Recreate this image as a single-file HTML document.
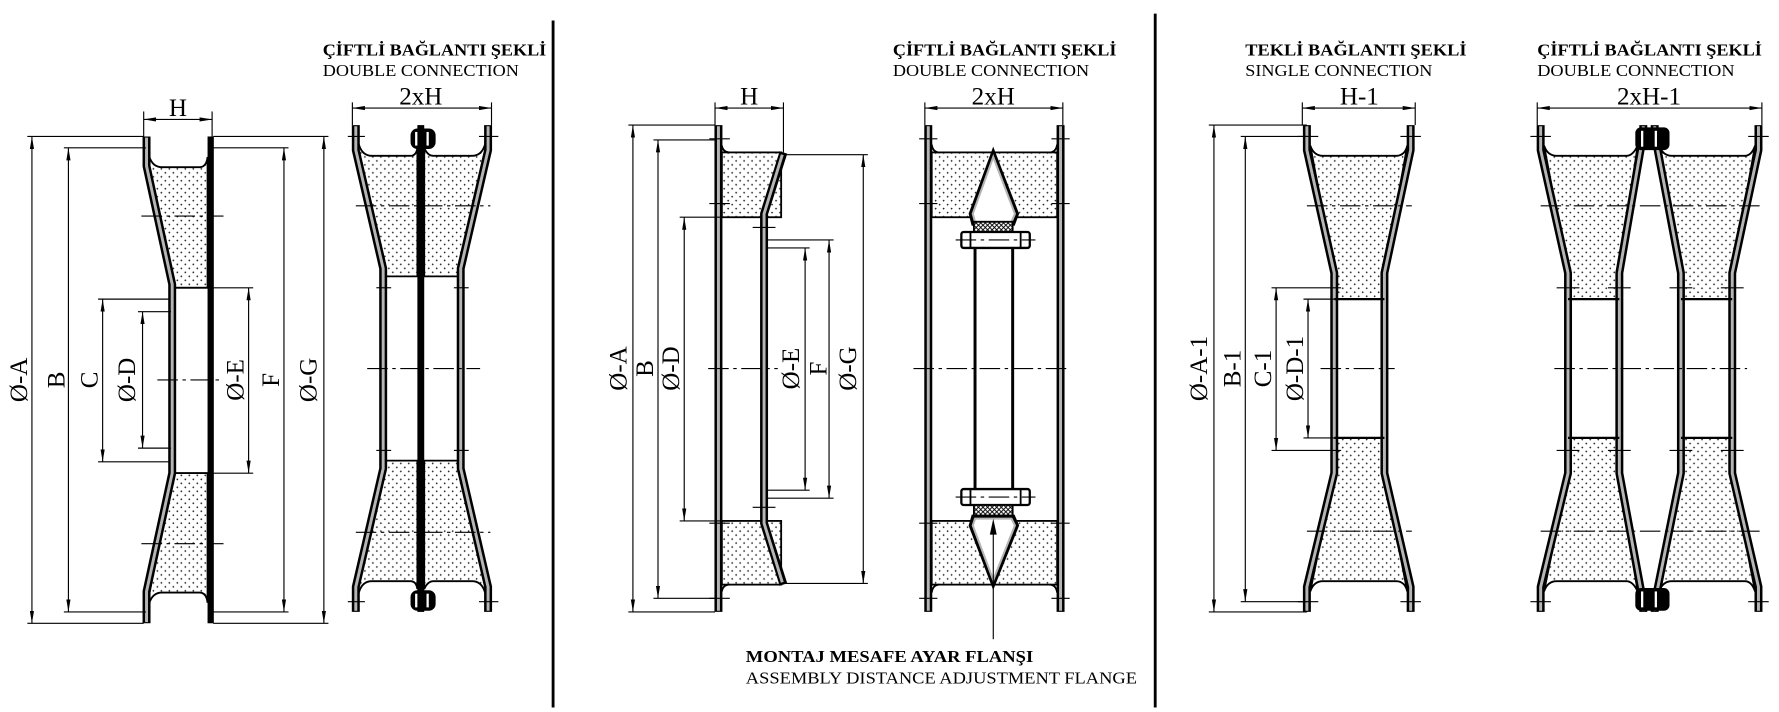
<!DOCTYPE html>
<html><head><meta charset="utf-8"><style>
html,body{margin:0;padding:0;background:#fff;}
svg{display:block}
.d{stroke:#000;stroke-width:1;fill:none}
.da{stroke:#000;stroke-width:1;fill:none;marker-start:url(#ar);marker-end:url(#ar)}
.c{stroke:#000;stroke-width:1;fill:none;stroke-dasharray:18 4 3 4}
.wo{stroke:#000;stroke-width:7;fill:none;stroke-linejoin:miter}
.wi{stroke:#b5b5b5;stroke-width:2.6;fill:none;stroke-linejoin:miter}
.dot{fill:url(#dp);stroke:#000;stroke-width:1.6}
.t{font-family:"Liberation Serif",serif;font-size:22px;fill:#000}
.tb{font-family:"Liberation Serif",serif;font-size:15px;font-weight:bold;fill:#000}
.tn{font-family:"Liberation Serif",serif;font-size:15px;fill:#000}
</style></head><body>
<svg width="1779" height="712" viewBox="0 0 1560 626" preserveAspectRatio="none" xmlns="http://www.w3.org/2000/svg">
<defs>
<marker id="ar" viewBox="0 0 12 4" refX="12" refY="2" markerWidth="11" markerHeight="4" markerUnits="userSpaceOnUse" orient="auto-start-reverse"><path d="M0,0 L12,2 L0,4 z" fill="#000"/></marker>
<pattern id="dp" width="7" height="7" patternUnits="userSpaceOnUse"><rect width="7" height="7" fill="#fff"/><path d="M0.7,1.5h1.6M1.5,0.7v1.6M4.2,5h1.6M5,4.2v1.6" stroke="#000" stroke-width="0.6"/></pattern>
<pattern id="hp" width="4" height="4" patternUnits="userSpaceOnUse"><rect width="4" height="4" fill="#fff"/><path d="M0,4L4,0M0,0L4,4" stroke="#000" stroke-width="0.8"/></pattern>
</defs>
<rect width="1560" height="626" fill="#fff"/>

<line x1="485" y1="18" x2="485" y2="622" stroke="#000" stroke-width="2.5"/>
<line x1="1013" y1="12" x2="1013" y2="622" stroke="#000" stroke-width="2.5"/>

<!-- PANEL 1 -->
<path class="dot" d="M131,138 Q134,147 142,147 L175,147 Q181,147 182,138 L182,253 L151,253 L131,146 Z"/>
<path class="dot" d="M131,530 Q134,521 142,521 L175,521 Q181,521 182,530 L182,416 L151,416 L131,522 Z"/>
<line x1="151" y1="253" x2="182" y2="253" stroke="#000" stroke-width="1.6"/>
<line x1="151" y1="416" x2="182" y2="416" stroke="#000" stroke-width="1.6"/>
<polyline class="wo" points="128.5,120 128.5,146 151,250 151,416 128.5,520 128.5,548"/>
<polyline class="wi" points="128.5,121 128.5,146 151,250 151,416 128.5,520 128.5,547"/>
<rect x="182" y="120" width="5.5" height="428" fill="#000"/>
<line class="c" x1="124" y1="190" x2="196" y2="190"/>
<line class="c" x1="124" y1="478" x2="196" y2="478"/>
<line class="c" x1="138" y1="334" x2="196" y2="334"/>
<line class="d" x1="126" y1="98" x2="126" y2="120"/><line class="d" x1="186" y1="98" x2="186" y2="120"/>
<line class="da" x1="126" y1="105" x2="186" y2="105"/>
<text class="t" x="156" y="102" text-anchor="middle">H</text>
<line class="d" x1="24" y1="120" x2="126" y2="120"/><line class="d" x1="24" y1="548" x2="126" y2="548"/>
<line class="da" x1="28" y1="120" x2="28" y2="548"/>
<line class="d" x1="56" y1="130" x2="128" y2="130"/><line class="d" x1="56" y1="538" x2="128" y2="538"/>
<line class="da" x1="60" y1="130" x2="60" y2="538"/>
<line class="d" x1="86" y1="263" x2="149" y2="263"/><line class="d" x1="86" y1="406" x2="149" y2="406"/>
<line class="da" x1="90" y1="263" x2="90" y2="406"/>
<line class="d" x1="121" y1="274" x2="150" y2="274"/><line class="d" x1="121" y1="394" x2="150" y2="394"/>
<line class="da" x1="125" y1="274" x2="125" y2="394"/>
<line class="d" x1="187" y1="253" x2="222" y2="253"/><line class="d" x1="187" y1="416" x2="222" y2="416"/>
<line class="da" x1="218" y1="253" x2="218" y2="416"/>
<line class="d" x1="187" y1="130" x2="253" y2="130"/><line class="d" x1="187" y1="538" x2="253" y2="538"/>
<line class="da" x1="249" y1="130" x2="249" y2="538"/>
<line class="d" x1="187" y1="120" x2="288" y2="120"/><line class="d" x1="187" y1="548" x2="288" y2="548"/>
<line class="da" x1="284" y1="120" x2="284" y2="548"/>
<text class="t" transform="translate(17,334) rotate(-90)" text-anchor="middle" dominant-baseline="central">Ø-A</text>
<text class="t" transform="translate(50,334) rotate(-90)" text-anchor="middle" dominant-baseline="central">B</text>
<text class="t" transform="translate(79,334) rotate(-90)" text-anchor="middle" dominant-baseline="central">C</text>
<text class="t" transform="translate(112,334) rotate(-90)" text-anchor="middle" dominant-baseline="central">Ø-D</text>
<text class="t" transform="translate(207,334) rotate(-90)" text-anchor="middle" dominant-baseline="central">Ø-E</text>
<text class="t" transform="translate(238,334) rotate(-90)" text-anchor="middle" dominant-baseline="central">F</text>
<text class="t" transform="translate(271,334) rotate(-90)" text-anchor="middle" dominant-baseline="central">Ø-G</text>

<!-- PANEL 2 -->
<text class="tb" x="283" y="49" textLength="196" lengthAdjust="spacingAndGlyphs">ÇİFTLİ BAĞLANTI ŞEKLİ</text>
<text class="tn" x="283" y="67" textLength="172" lengthAdjust="spacingAndGlyphs">DOUBLE CONNECTION</text>
<line class="d" x1="309" y1="90" x2="309" y2="110"/><line class="d" x1="431" y1="90" x2="431" y2="110"/>
<line class="da" x1="309" y1="95" x2="431" y2="95"/>
<text class="t" x="369" y="92" text-anchor="middle">2xH</text>
<path class="dot" d="M315,128 Q318,137 326,137 L360,137 Q365,137 366,130 L366,243 L336,243 L336,236 L313,134 Z"/>
<path class="dot" d="M425,128 Q422,137 414,137 L380,137 Q375,137 372,130 L372,243 L404,243 L404,236 L427,134 Z"/>
<path class="dot" d="M315,520 Q318,511 326,511 L360,511 Q365,511 366,518 L366,405 L336,405 L336,412 L313,514 Z"/>
<path class="dot" d="M425,520 Q422,511 414,511 L380,511 Q375,511 372,518 L372,405 L404,405 L404,412 L427,514 Z"/>
<polyline class="wo" points="312,110 312,132 336,236 336,412 312,516 312,538"/>
<polyline class="wi" points="312,111 312,132 336,236 336,412 312,516 312,537"/>
<polyline class="wo" points="428,110 428,132 404,236 404,412 428,516 428,538"/>
<polyline class="wi" points="428,111 428,132 404,236 404,412 428,516 428,537"/>
<rect x="366" y="110" width="6" height="428" fill="#000"/>
<rect x="360" y="113" width="22" height="18" rx="6" fill="#000"/>
<rect x="364" y="116" width="2" height="12" fill="#fff"/><rect x="374" y="116" width="2" height="12" fill="#fff"/>
<rect x="360" y="519" width="22" height="18" rx="6" fill="#000"/>
<rect x="364" y="522" width="2" height="12" fill="#fff"/><rect x="374" y="522" width="2" height="12" fill="#fff"/>
<line class="c" x1="305" y1="120" x2="320" y2="120"/><line class="c" x1="420" y1="120" x2="437" y2="120"/>
<line class="c" x1="305" y1="529" x2="320" y2="529"/><line class="c" x1="420" y1="529" x2="437" y2="529"/>
<line class="c" x1="312" y1="181" x2="430" y2="181"/>
<line class="c" x1="312" y1="468" x2="430" y2="468"/>
<line class="c" x1="322" y1="324" x2="421" y2="324"/>
<line class="d" x1="330" y1="253" x2="343" y2="253"/><line class="d" x1="398" y1="253" x2="411" y2="253"/>
<line class="d" x1="330" y1="396" x2="343" y2="396"/><line class="d" x1="398" y1="396" x2="411" y2="396"/>

<!-- PANEL 3 -->
<rect class="dot" x="633" y="134" width="52" height="57"/>
<rect class="dot" x="633" y="458" width="52" height="56"/>
<path d="M633,128 Q634,134 640,134" stroke="#000" stroke-width="1.6" fill="none"/>
<path d="M633,520 Q634,514 640,514" stroke="#000" stroke-width="1.6" fill="none"/>
<polyline class="wo" points="630,110 630,538"/>
<polyline class="wi" points="630,111 630,537"/>
<polyline class="wo" points="687,134 670,188 670,460 687,514"/>
<polyline class="wi" points="686,136 670,188 670,460 686,512"/>
<line class="c" x1="622" y1="122" x2="640" y2="122"/><line class="c" x1="622" y1="179" x2="640" y2="179"/>
<line class="c" x1="622" y1="460" x2="640" y2="460"/><line class="c" x1="622" y1="526" x2="640" y2="526"/>
<line class="d" x1="660" y1="200" x2="680" y2="200"/><line class="d" x1="660" y1="446" x2="680" y2="446"/>
<line class="c" x1="621" y1="324" x2="682" y2="324"/>
<line class="d" x1="627" y1="90" x2="627" y2="110"/><line class="d" x1="687" y1="90" x2="687" y2="134"/>
<line class="da" x1="627" y1="95" x2="687" y2="95"/>
<text class="t" x="657" y="92" text-anchor="middle">H</text>
<line class="d" x1="551" y1="110" x2="627" y2="110"/><line class="d" x1="551" y1="538" x2="627" y2="538"/>
<line class="da" x1="555" y1="110" x2="555" y2="538"/>
<line class="d" x1="573" y1="123" x2="628" y2="123"/><line class="d" x1="573" y1="526" x2="628" y2="526"/>
<line class="da" x1="577" y1="123" x2="577" y2="526"/>
<line class="d" x1="596" y1="191" x2="667" y2="191"/><line class="d" x1="596" y1="458" x2="667" y2="458"/>
<line class="da" x1="600" y1="191" x2="600" y2="458"/>
<line class="d" x1="673" y1="218" x2="710" y2="218"/><line class="d" x1="673" y1="431" x2="710" y2="431"/>
<line class="da" x1="706" y1="218" x2="706" y2="431"/>
<line class="d" x1="673" y1="211" x2="731" y2="211"/><line class="d" x1="673" y1="438" x2="731" y2="438"/>
<line class="da" x1="727" y1="211" x2="727" y2="438"/>
<line class="d" x1="688" y1="136" x2="761" y2="136"/><line class="d" x1="688" y1="513" x2="761" y2="513"/>
<line class="da" x1="757" y1="136" x2="757" y2="513"/>
<text class="t" transform="translate(543,324) rotate(-90)" text-anchor="middle" dominant-baseline="central">Ø-A</text>
<text class="t" transform="translate(566,324) rotate(-90)" text-anchor="middle" dominant-baseline="central">B</text>
<text class="t" transform="translate(589,324) rotate(-90)" text-anchor="middle" dominant-baseline="central">Ø-D</text>
<text class="t" transform="translate(694,324) rotate(-90)" text-anchor="middle" dominant-baseline="central">Ø-E</text>
<text class="t" transform="translate(718,324) rotate(-90)" text-anchor="middle" dominant-baseline="central">F</text>
<text class="t" transform="translate(744,324) rotate(-90)" text-anchor="middle" dominant-baseline="central">Ø-G</text>

<!-- PANEL 4 -->
<text class="tb" x="783" y="49" textLength="196" lengthAdjust="spacingAndGlyphs">ÇİFTLİ BAĞLANTI ŞEKLİ</text>
<text class="tn" x="783" y="67" textLength="172" lengthAdjust="spacingAndGlyphs">DOUBLE CONNECTION</text>
<line class="d" x1="811" y1="90" x2="811" y2="110"/><line class="d" x1="932" y1="90" x2="932" y2="110"/>
<line class="da" x1="811" y1="95" x2="932" y2="95"/>
<text class="t" x="871" y="92" text-anchor="middle">2xH</text>
<rect class="dot" x="817" y="134" width="110" height="57"/>
<rect class="dot" x="817" y="458" width="110" height="56"/>
<path d="M817,127 Q818,134 824,134 M927,127 Q926,134 920,134 M817,521 Q818,514 824,514 M927,521 Q926,514 920,514" stroke="#000" stroke-width="1.6" fill="none"/>
<polyline class="wo" points="814,110 814,538"/><polyline class="wi" points="814,111 814,537"/>
<polyline class="wo" points="930,110 930,538"/><polyline class="wi" points="930,111 930,537"/>
<polygon points="871,136 852,188 854,196 888,196 891,188" fill="#fff" stroke="#000" stroke-width="5" stroke-linejoin="miter"/>
<polygon points="871,138 853,188 855,195 887,195 890,188" fill="#fff" stroke="#b5b5b5" stroke-width="1.8"/>
<rect x="854" y="195" width="34" height="10" fill="url(#hp)" stroke="#000" stroke-width="1.6"/>
<rect x="843" y="204" width="60" height="14" rx="2" fill="#fff" stroke="#000" stroke-width="2"/>
<line x1="851" y1="204" x2="851" y2="218" stroke="#000" stroke-width="1.6"/>
<line x1="895" y1="204" x2="895" y2="218" stroke="#000" stroke-width="1.6"/>
<line x1="855" y1="218" x2="855" y2="430" stroke="#000" stroke-width="2.6"/>
<line x1="888" y1="218" x2="888" y2="430" stroke="#000" stroke-width="2.6"/>
<rect x="843" y="430" width="60" height="14" rx="2" fill="#fff" stroke="#000" stroke-width="2"/>
<line x1="851" y1="430" x2="851" y2="444" stroke="#000" stroke-width="1.6"/>
<line x1="895" y1="430" x2="895" y2="444" stroke="#000" stroke-width="1.6"/>
<rect x="854" y="444" width="34" height="10" fill="url(#hp)" stroke="#000" stroke-width="1.6"/>
<polygon points="871,512 852,462 854,455 888,455 891,462" fill="#fff" stroke="#000" stroke-width="5"/>
<polygon points="871,510 853,462 855,456 887,456 890,462" fill="#fff" stroke="#b5b5b5" stroke-width="1.8"/>
<line class="c" x1="838" y1="211" x2="908" y2="211"/><line class="c" x1="838" y1="437" x2="908" y2="437"/>
<line class="c" x1="806" y1="122" x2="822" y2="122"/><line class="c" x1="922" y1="122" x2="938" y2="122"/>
<line class="c" x1="806" y1="179" x2="822" y2="179"/><line class="c" x1="922" y1="179" x2="938" y2="179"/>
<line class="c" x1="806" y1="460" x2="822" y2="460"/><line class="c" x1="922" y1="460" x2="938" y2="460"/>
<line class="c" x1="806" y1="526" x2="822" y2="526"/><line class="c" x1="922" y1="526" x2="938" y2="526"/>
<line class="c" x1="801" y1="324" x2="939" y2="324"/>
<line x1="871" y1="562" x2="871" y2="468" stroke="#000" stroke-width="1"/>
<polygon points="871,456 868,470 874,470" fill="#000"/>
<text class="tb" x="654" y="582" textLength="252" lengthAdjust="spacingAndGlyphs">MONTAJ MESAFE AYAR FLANŞI</text>
<text class="tn" x="654" y="601" textLength="343" lengthAdjust="spacingAndGlyphs">ASSEMBLY DISTANCE ADJUSTMENT FLANGE</text>

<!-- PANEL 5 -->
<text class="tb" x="1092" y="49" textLength="194" lengthAdjust="spacingAndGlyphs">TEKLİ BAĞLANTI ŞEKLİ</text>
<text class="tn" x="1092" y="67" textLength="164" lengthAdjust="spacingAndGlyphs">SINGLE CONNECTION</text>
<line class="d" x1="1142" y1="90" x2="1142" y2="110"/><line class="d" x1="1241" y1="90" x2="1241" y2="110"/>
<line class="da" x1="1142" y1="95" x2="1241" y2="95"/>
<text class="t" x="1192" y="92" text-anchor="middle">H-1</text>
<path class="dot" d="M1149,128 Q1152,137 1160,137 L1224,137 Q1232,137 1234,128 L1214,240 L1214,263 L1170,263 L1170,240 Z"/>
<path class="dot" d="M1149,520 Q1152,511 1160,511 L1224,511 Q1232,511 1234,520 L1214,416 L1214,385 L1170,385 L1170,416 Z"/>
<polyline class="wo" points="1146,110 1146,132 1170,240 1170,416 1146,516 1146,538"/>
<polyline class="wi" points="1146,111 1146,132 1170,240 1170,416 1146,516 1146,537"/>
<polyline class="wo" points="1237,110 1237,132 1214,240 1214,416 1237,516 1237,538"/>
<polyline class="wi" points="1237,111 1237,132 1214,240 1214,416 1237,516 1237,537"/>
<line x1="1170" y1="263" x2="1214" y2="263" stroke="#000" stroke-width="2"/>
<line x1="1170" y1="385" x2="1214" y2="385" stroke="#000" stroke-width="2"/>
<line class="c" x1="1138" y1="120" x2="1156" y2="120"/><line class="c" x1="1228" y1="120" x2="1246" y2="120"/>
<line class="c" x1="1138" y1="529" x2="1156" y2="529"/><line class="c" x1="1228" y1="529" x2="1246" y2="529"/>
<line class="c" x1="1146" y1="181" x2="1238" y2="181"/>
<line class="c" x1="1146" y1="467" x2="1238" y2="467"/>
<line class="c" x1="1158" y1="324" x2="1223" y2="324"/>
<line class="d" x1="1060" y1="110" x2="1146" y2="110"/><line class="d" x1="1060" y1="538" x2="1146" y2="538"/>
<line class="da" x1="1064.5" y1="110" x2="1064.5" y2="538"/>
<line class="d" x1="1088" y1="120" x2="1146" y2="120"/><line class="d" x1="1088" y1="529" x2="1146" y2="529"/>
<line class="da" x1="1092" y1="120" x2="1092" y2="529"/>
<line class="d" x1="1115" y1="253" x2="1176" y2="253"/><line class="d" x1="1115" y1="396" x2="1176" y2="396"/>
<line class="da" x1="1119" y1="253" x2="1119" y2="396"/>
<line class="d" x1="1143" y1="263" x2="1170" y2="263"/><line class="d" x1="1143" y1="385" x2="1170" y2="385"/>
<line class="da" x1="1147" y1="263" x2="1147" y2="385"/>
<text class="t" transform="translate(1052,324) rotate(-90)" text-anchor="middle" dominant-baseline="central">Ø-A-1</text>
<text class="t" transform="translate(1081,324) rotate(-90)" text-anchor="middle" dominant-baseline="central">B-1</text>
<text class="t" transform="translate(1108,324) rotate(-90)" text-anchor="middle" dominant-baseline="central">C-1</text>
<text class="t" transform="translate(1136,324) rotate(-90)" text-anchor="middle" dominant-baseline="central">Ø-D-1</text>

<!-- PANEL 6 -->
<text class="tb" x="1348" y="49" textLength="197" lengthAdjust="spacingAndGlyphs">ÇİFTLİ BAĞLANTI ŞEKLİ</text>
<text class="tn" x="1348" y="67" textLength="173" lengthAdjust="spacingAndGlyphs">DOUBLE CONNECTION</text>
<line class="d" x1="1348" y1="90" x2="1348" y2="110"/><line class="d" x1="1545" y1="90" x2="1545" y2="110"/>
<line class="da" x1="1348" y1="95" x2="1545" y2="95"/>
<text class="t" x="1446" y="92" text-anchor="middle">2xH-1</text>
<path class="dot" d="M1354,128 Q1357,137 1365,137 L1426,137 Q1432,137 1436,128 L1420,240 L1420,263 L1375,263 L1375,240 Z"/>
<path class="dot" d="M1455,128 Q1458,137 1466,137 L1530,137 Q1536,137 1539,128 L1519,240 L1519,263 L1474,263 L1474,240 Z"/>
<path class="dot" d="M1354,520 Q1357,511 1365,511 L1426,511 Q1432,511 1436,520 L1420,416 L1420,385 L1375,385 L1375,416 Z"/>
<path class="dot" d="M1455,520 Q1458,511 1466,511 L1530,511 Q1536,511 1539,520 L1519,416 L1519,385 L1474,385 L1474,416 Z"/>
<polyline class="wo" points="1351,110 1351,132 1375,240 1375,416 1351,516 1351,538"/>
<polyline class="wi" points="1351,111 1351,132 1375,240 1375,416 1351,516 1351,537"/>
<polyline class="wo" points="1441,110 1441,118 1420,240 1420,416 1441,530 1441,538"/>
<polyline class="wi" points="1441,111 1441,118 1420,240 1420,416 1441,530 1441,537"/>
<polyline class="wo" points="1451,110 1451,118 1474,240 1474,416 1451,530 1451,538"/>
<polyline class="wi" points="1451,111 1451,118 1474,240 1474,416 1451,530 1451,537"/>
<polyline class="wo" points="1542,110 1542,132 1519,240 1519,416 1542,516 1542,538"/>
<polyline class="wi" points="1542,111 1542,132 1519,240 1519,416 1542,516 1542,537"/>
<rect x="1434" y="112" width="30" height="20" rx="5" fill="#000"/>
<rect x="1439" y="115" width="2" height="14" fill="#fff"/><rect x="1451" y="115" width="2" height="14" fill="#fff"/>
<rect x="1434" y="517" width="30" height="20" rx="5" fill="#000"/>
<rect x="1439" y="520" width="2" height="14" fill="#fff"/><rect x="1451" y="520" width="2" height="14" fill="#fff"/>
<line x1="1375" y1="263" x2="1420" y2="263" stroke="#000" stroke-width="2"/>
<line x1="1375" y1="385" x2="1420" y2="385" stroke="#000" stroke-width="2"/>
<line x1="1474" y1="263" x2="1519" y2="263" stroke="#000" stroke-width="2"/>
<line x1="1474" y1="385" x2="1519" y2="385" stroke="#000" stroke-width="2"/>
<line class="c" x1="1342" y1="120" x2="1360" y2="120"/><line class="c" x1="1533" y1="120" x2="1551" y2="120"/>
<line class="c" x1="1342" y1="529" x2="1360" y2="529"/><line class="c" x1="1533" y1="529" x2="1551" y2="529"/>
<line class="c" x1="1351" y1="181" x2="1545" y2="181"/>
<line class="c" x1="1351" y1="467" x2="1545" y2="467"/>
<line class="c" x1="1363" y1="324" x2="1532" y2="324"/>
<line class="d" x1="1365" y1="253" x2="1385" y2="253"/><line class="d" x1="1410" y1="253" x2="1430" y2="253"/>
<line class="d" x1="1464" y1="253" x2="1484" y2="253"/><line class="d" x1="1509" y1="253" x2="1529" y2="253"/>
<line class="d" x1="1365" y1="396" x2="1385" y2="396"/><line class="d" x1="1410" y1="396" x2="1430" y2="396"/>
<line class="d" x1="1464" y1="396" x2="1484" y2="396"/><line class="d" x1="1509" y1="396" x2="1529" y2="396"/>
</svg>
</body></html>
